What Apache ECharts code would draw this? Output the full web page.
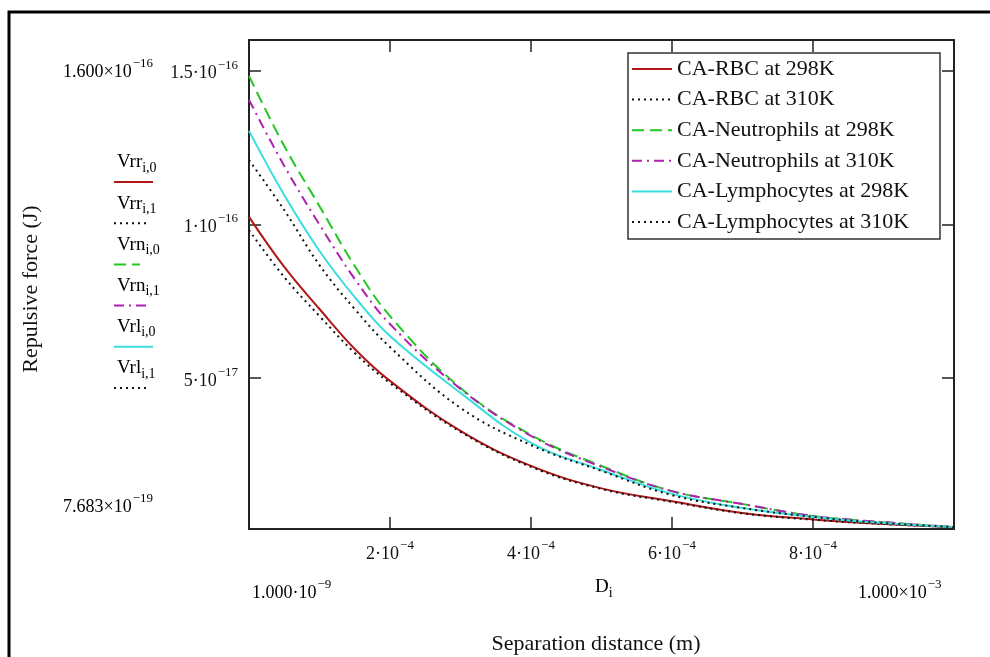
<!DOCTYPE html>
<html>
<head>
<meta charset="utf-8">
<script src="https://cdn.jsdelivr.net/npm/echarts@6/dist/echarts.min.js"></script>
<style>
  html, body { margin: 0; padding: 0; background: #fff; }
  #chart { width: 990px; height: 657px; }
</style>
</head>
<body>
<div id="chart"></div>
<script>
// separation distance D (m)
const distance = [1e-9, 0.5e-4, 1e-4, 1.5e-4, 2e-4, 3e-4, 4e-4, 5e-4, 6e-4, 7e-4, 8e-4, 9e-4, 1e-3];

// repulsive force (J)
const rbc298 = [1.024e-16, 8.61e-17, 7.24e-17, 5.94e-17, 4.90e-17, 3.27e-17, 2.13e-17, 1.40e-17, 9.8e-18, 6.0e-18, 3.9e-18, 2.4e-18, 1.4e-18];
const rbc310 = [9.81e-17, 8.28e-17, 7.01e-17, 5.81e-17, 4.83e-17, 3.24e-17, 2.10e-17, 1.38e-17, 9.6e-18, 5.9e-18, 3.8e-18, 2.4e-18, 1.4e-18];
const neu298 = [1.483e-16, 1.255e-16, 1.059e-16, 8.64e-17, 7.01e-17, 4.67e-17, 3.14e-17, 2.13e-17, 1.31e-17, 8.9e-18, 5.0e-18, 3.0e-18, 1.4e-18];
const neu310 = [1.405e-16, 1.190e-16, 9.99e-17, 8.22e-17, 6.75e-17, 4.64e-17, 3.11e-17, 2.10e-17, 1.31e-17, 8.9e-18, 5.0e-18, 3.0e-18, 1.4e-18];
const lym298 = [1.304e-16, 1.095e-16, 9.13e-17, 7.63e-17, 6.36e-17, 4.51e-17, 2.88e-17, 2.00e-17, 1.22e-17, 7.6e-18, 4.7e-18, 2.7e-18, 1.4e-18];
const lym310 = [1.209e-16, 1.046e-16, 8.67e-17, 7.24e-17, 6.00e-17, 4.02e-17, 2.81e-17, 1.97e-17, 1.18e-17, 7.6e-18, 4.7e-18, 2.7e-18, 1.4e-18];

const seriesNames = ['CA-RBC at 298K', 'CA-RBC at 310K', 'CA-Neutrophils at 298K',
  'CA-Neutrophils at 310K', 'CA-Lymphocytes at 298K', 'CA-Lymphocytes at 310K'];
const traceNames = ['Vrr', 'Vrr', 'Vrn', 'Vrn', 'Vrl', 'Vrl'];
const traceSubs = ['i,0', 'i,1', 'i,0', 'i,1', 'i,0', 'i,1'];

// axis range and ticks
const xMin = 1e-9, xMax = 1e-3;
const yMin = 7.683e-19, yMax = 1.6e-16;
const xTicks = [2e-4, 4e-4, 6e-4, 8e-4];
const xTickMant = ['2·10', '4·10', '6·10', '8·10'];
const xTickExp = ['−4', '−4', '−4', '−4'];
const yTicks = [5e-17, 1e-16, 1.5e-16];
const yTickMant = ['5·10', '1·10', '1.5·10'];
const yTickExp = ['−17', '−16', '−16'];

const colors = ['#b01818', '#111111', '#22c822', '#b020b0', '#38dede', '#111111'];
const dashes = ['solid', [2, 4], [12, 6], [10, 5, 2, 5], 'solid', [2, 4]];
const allValues = [rbc298, rbc310, neu298, neu310, lym298, lym310];

const serif = 'Liberation Serif';
const supRich = {
  m: { fontFamily: serif, fontSize: 18, color: '#111', lineHeight: 24, verticalAlign: 'bottom' },
  s: { fontFamily: serif, fontSize: 13, color: '#111', lineHeight: 24, verticalAlign: 'top', padding: [0, 0, 0, 1] }
};
const subRich = {
  m: { fontFamily: serif, fontSize: 19, color: '#111', lineHeight: 22, verticalAlign: 'top' },
  s: { fontFamily: serif, fontSize: 14, color: '#111', lineHeight: 22, verticalAlign: 'bottom' }
};

function tickText(v, ticks, mant, exp) {
  const i = ticks.findIndex(t => Math.abs(t - v) < t * 1e-6);
  return i < 0 ? '' : '{m|' + mant[i] + '}{s|' + exp[i] + '}';
}

const chart = echarts.init(document.getElementById('chart'));

const series = seriesNames.map((name, k) => ({
  name: name,
  type: 'line',
  data: distance.map((d, i) => [d, allValues[k][i]]),
  smooth: 0.4,
  symbol: 'none',
  color: colors[k],
  lineStyle: { color: colors[k], width: 2, type: dashes[k] },
  z: 2
}));

// Mathcad trace labels on the left
const traceGraphics = [];
traceNames.forEach((n, k) => {
  const y0 = 164 + k * 41.2;
  traceGraphics.push({
    type: 'text', x: 117, y: y0, z: 5,
    style: { text: '{m|' + n + '}{s|' + traceSubs[k] + '}', rich: subRich, verticalAlign: 'middle' }
  });
  traceGraphics.push({
    type: 'line', z: 5,
    shape: { x1: 114, y1: y0 + 18, x2: k % 2 === 0 ? (k === 2 ? 140 : 153) : 146, y2: y0 + 18 },
    style: { stroke: colors[k], lineWidth: 2, lineDash: Array.isArray(dashes[k]) ? dashes[k] : null }
  });
});

const option = {
  backgroundColor: '#fff',
  animation: false,
  grid: { left: 249, top: 40, width: 705, height: 489, containLabel: false },
  xAxis: [{
    type: 'value', min: xMin, max: xMax, position: 'bottom',
    axisLine: { show: true, lineStyle: { color: '#222', width: 2 } },
    axisTick: { show: true, inside: true, length: 12, customValues: xTicks, lineStyle: { color: '#222', width: 1.5 } },
    axisLabel: { show: true, customValues: xTicks, margin: 10,
      formatter: v => tickText(v, xTicks, xTickMant, xTickExp), rich: supRich },
    splitLine: { show: false }
  }, {
    type: 'value', min: xMin, max: xMax, position: 'top',
    axisLine: { show: true, lineStyle: { color: '#222', width: 2 } },
    axisTick: { show: true, inside: true, length: 12, customValues: xTicks, lineStyle: { color: '#222', width: 1.5 } },
    axisLabel: { show: false },
    splitLine: { show: false }
  }],
  yAxis: [{
    type: 'value', min: yMin, max: yMax, position: 'left',
    axisLine: { show: true, lineStyle: { color: '#222', width: 2 } },
    axisTick: { show: true, inside: true, length: 12, customValues: yTicks, lineStyle: { color: '#222', width: 1.5 } },
    axisLabel: { show: true, customValues: yTicks, margin: 11,
      formatter: v => tickText(v, yTicks, yTickMant, yTickExp), rich: supRich },
    splitLine: { show: false }
  }, {
    type: 'value', min: yMin, max: yMax, position: 'right',
    axisLine: { show: true, lineStyle: { color: '#222', width: 2 } },
    axisTick: { show: true, inside: true, length: 12, customValues: yTicks, lineStyle: { color: '#222', width: 1.5 } },
    axisLabel: { show: false },
    splitLine: { show: false }
  }],
  legend: {
    data: seriesNames,
    orient: 'vertical',
    left: 631, top: 58,
    padding: 0,
    itemWidth: 40, itemHeight: 14, itemGap: 8.6,
    selectedMode: false,
    itemStyle: { opacity: 0 },
    z: 6,
    textStyle: { fontFamily: serif, fontSize: 22, lineHeight: 22, color: '#111' }
  },
  graphic: [
    { type: 'polyline', z: 1, shape: { points: [[9, 657], [9, 12], [990, 12]] },
      style: { stroke: '#000', lineWidth: 3, fill: null } },
    { type: 'rect', z: 4, shape: { x: 628, y: 53, width: 312, height: 186 },
      style: { fill: '#fff', stroke: '#333', lineWidth: 1.5 } },
    { type: 'text', x: 31, y: 289, rotation: Math.PI / 2, z: 5,
      style: { text: 'Repulsive force (J)', fontFamily: serif, fontSize: 22, fill: '#111', align: 'center', verticalAlign: 'middle' } },
    { type: 'text', x: 596, y: 644, z: 5,
      style: { text: 'Separation distance (m)', fontFamily: serif, fontSize: 22, fill: '#111', align: 'center', verticalAlign: 'middle' } },
    { type: 'text', x: 63, y: 69, z: 5,
      style: { text: '{m|1.600×10}{s|−16}', rich: supRich, verticalAlign: 'middle' } },
    { type: 'text', x: 63, y: 504, z: 5,
      style: { text: '{m|7.683×10}{s|−19}', rich: supRich, verticalAlign: 'middle' } },
    { type: 'text', x: 252, y: 590, z: 5,
      style: { text: '{m|1.000·10}{s|−9}', rich: supRich, verticalAlign: 'middle' } },
    { type: 'text', x: 858, y: 590, z: 5,
      style: { text: '{m|1.000×10}{s|−3}', rich: supRich, verticalAlign: 'middle' } },
    { type: 'text', x: 595, y: 589, z: 5,
      style: { text: '{m|D}{s|i}', rich: subRich, verticalAlign: 'middle' } }
  ].concat(traceGraphics),
  series: series
};

chart.setOption(option);
</script>
</body>
</html>
